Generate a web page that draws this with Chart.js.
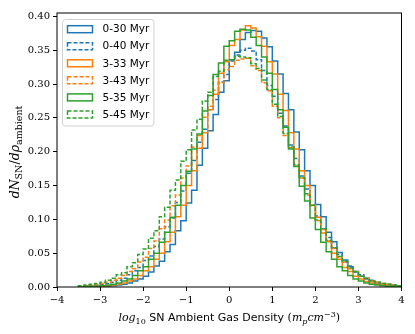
<!DOCTYPE html>
<html><head><meta charset="utf-8">
<script src="https://cdn.jsdelivr.net/npm/chart.js@4"></script>
<style>html,body{margin:0;padding:0;background:#fff}#wrap{width:415px;height:334px}</style>
</head><body><div id="wrap"><canvas id="c" width="415" height="334"></canvas></div>
<script>
// histogram bins: 60 bins of width 0.125 starting at -3.5
const binStart = -3.5;
const binWidth = 0.125;
const binCount = 60;

const seriesLabels = ['0-30 Myr','0-40 Myr','3-33 Myr','3-43 Myr','5-35 Myr','5-45 Myr'];

const dens_0_30 = [
 0.000,0.000,0.000,0.001,0.001,0.001,0.002,0.003,0.004,0.006,
 0.009,0.012,0.016,0.022,0.031,0.038,0.052,0.063,0.083,0.098,
 0.124,0.143,0.180,0.205,0.231,0.255,0.288,0.305,0.336,0.347,
 0.366,0.376,0.379,0.378,0.368,0.355,0.334,0.315,0.286,0.262,
 0.229,0.203,0.172,0.150,0.122,0.104,0.081,0.067,0.051,0.040,
 0.030,0.023,0.016,0.012,0.009,0.006,0.004,0.003,0.002,0.001];
const dens_0_40 = [
 0.001,0.001,0.002,0.003,0.004,0.005,0.007,0.010,0.013,0.018,
 0.024,0.029,0.039,0.046,0.060,0.071,0.089,0.102,0.125,0.142,
 0.168,0.187,0.214,0.233,0.262,0.277,0.303,0.314,0.334,0.343,
 0.350,0.353,0.349,0.336,0.320,0.298,0.282,0.257,0.238,0.210,
 0.190,0.164,0.145,0.121,0.105,0.086,0.073,0.058,0.048,0.037,
 0.031,0.022,0.018,0.013,0.010,0.007,0.005,0.004,0.003,0.002];
const dens_3_33 = [
 0.000,0.000,0.000,0.001,0.001,0.002,0.003,0.004,0.006,0.009,
 0.012,0.017,0.024,0.030,0.041,0.050,0.067,0.081,0.104,0.121,
 0.150,0.172,0.205,0.228,0.262,0.285,0.316,0.333,0.357,0.366,
 0.380,0.386,0.383,0.370,0.356,0.333,0.315,0.285,0.261,0.228,
 0.204,0.172,0.150,0.121,0.103,0.080,0.067,0.050,0.041,0.029,
 0.023,0.016,0.012,0.008,0.006,0.004,0.003,0.002,0.001,0.001];
const dens_3_43 = [
 0.001,0.002,0.003,0.004,0.005,0.007,0.010,0.013,0.017,0.023,
 0.027,0.037,0.044,0.057,0.068,0.086,0.099,0.120,0.136,0.161,
 0.179,0.207,0.224,0.251,0.267,0.291,0.302,0.321,0.326,0.335,
 0.337,0.338,0.327,0.320,0.302,0.290,0.267,0.250,0.224,0.206,
 0.179,0.161,0.136,0.120,0.098,0.085,0.068,0.057,0.044,0.037,
 0.027,0.023,0.016,0.013,0.009,0.007,0.005,0.004,0.003,0.002];
const dens_5_35 = [
 0.000,0.001,0.001,0.001,0.002,0.003,0.004,0.006,0.009,0.012,
 0.017,0.024,0.030,0.041,0.050,0.066,0.081,0.103,0.121,0.150,
 0.171,0.204,0.226,0.260,0.283,0.314,0.331,0.356,0.364,0.378,
 0.381,0.380,0.369,0.357,0.340,0.316,0.292,0.262,0.236,0.204,
 0.178,0.149,0.127,0.102,0.085,0.066,0.052,0.041,0.030,0.024,
 0.017,0.012,0.009,0.006,0.004,0.003,0.002,0.001,0.001,0.001];
const dens_5_45 = [
 0.002,0.003,0.004,0.005,0.007,0.010,0.013,0.018,0.021,0.030,
 0.036,0.048,0.056,0.072,0.083,0.104,0.118,0.143,0.158,0.186,
 0.203,0.232,0.248,0.275,0.288,0.311,0.319,0.335,0.336,0.341,
 0.340,0.339,0.330,0.323,0.306,0.292,0.270,0.252,0.227,0.207,
 0.181,0.162,0.138,0.121,0.099,0.086,0.069,0.058,0.045,0.038,
 0.028,0.023,0.016,0.013,0.009,0.007,0.005,0.004,0.003,0.002];

const xTicks = [-4,-3,-2,-1,0,1,2,3,4];
const yTicks = [0,0.05,0.10,0.15,0.20,0.25,0.30,0.35,0.40];

const seriesValues = [dens_0_30, dens_0_40, dens_3_33, dens_3_43, dens_5_35, dens_5_45];
const seriesColors = ['#1f77b4','#1f77b4','#ff7f0e','#ff7f0e','#2ca02c','#2ca02c'];
const seriesDashed = [false,true,false,true,false,true];

function stepPoints(vals){
  const pts = [{x: binStart, y: 0}];
  for (let i = 0; i < vals.length; i++) pts.push({x: binStart + i*binWidth, y: vals[i]});
  pts.push({x: binStart + vals.length*binWidth, y: 0});
  return pts;
}

const datasets = seriesValues.map((v,i)=>({
  label: seriesLabels[i],
  data: stepPoints(v),
  borderColor: seriesColors[i],
  backgroundColor: 'transparent',
  borderWidth: 1.5,
  borderDash: seriesDashed[i] ? [4,2] : [],
  stepped: 'before',
  pointRadius: 0,
  fill: false,
  order: 10 - i
}));

function drawRuns(ctx, runs, cx, cy){
  let total = 0;
  runs.forEach(r => { ctx.font = r.font; r.w = ctx.measureText(r.t).width; total += r.w; });
  let x = cx - total/2;
  ctx.textBaseline = 'alphabetic';
  ctx.textAlign = 'left';
  runs.forEach(r => { ctx.font = r.font; ctx.fillText(r.t, x, cy + (r.dy||0)); x += r.w; });
}

const framePlugin = {
  id: 'frame',
  afterDatasetsDraw(chart){
    const {ctx, chartArea: a} = chart;
    ctx.save();
    // legend
    const lx = a.left + 5.5, ly = a.top + 6.5, lw = 91.5, lh = 106.5;
    ctx.beginPath();
    ctx.roundRect(lx, ly, lw, lh, 3);
    ctx.fillStyle = 'rgba(255,255,255,0.8)';
    ctx.fill();
    ctx.strokeStyle = '#d0d0d0';
    ctx.lineWidth = 1;
    ctx.stroke();
    for (let i = 0; i < seriesLabels.length; i++){
      const cy = ly + 9.7 + i*17.05;
      ctx.strokeStyle = seriesColors[i];
      ctx.lineWidth = 1.5;
      ctx.setLineDash(seriesDashed[i] ? [4,2] : []);
      ctx.strokeRect(lx + 5, cy - 3.5, 25, 7);
      ctx.setLineDash([]);
      ctx.fillStyle = '#000';
      ctx.font = '10.5px "DejaVu Sans"';
      ctx.textBaseline = 'middle';
      ctx.textAlign = 'left';
      ctx.fillText(seriesLabels[i], lx + 40, cy + 0.5);
    }
    // spines
    ctx.strokeStyle = '#000';
    ctx.lineWidth = 1;
    ctx.strokeRect(a.left, a.top, a.right - a.left, a.bottom - a.top);
    // axis labels
    ctx.fillStyle = '#000';
    const s = 11, ss = 8;
    drawRuns(ctx, [
      {t:'log', font:`italic ${s}px "DejaVu Serif"`},
      {t:'10', font:`${ss}px "DejaVu Serif"`, dy:2.5},
      {t:' SN Ambient Gas Density ', font:`${s}px "DejaVu Sans"`},
      {t:'(', font:`${s}px "DejaVu Serif"`},
      {t:'m', font:`italic ${s}px "DejaVu Serif"`},
      {t:'p', font:`italic ${ss}px "DejaVu Serif"`, dy:2.5},
      {t:'cm', font:`italic ${s}px "DejaVu Serif"`},
      {t:'−3', font:`${ss}px "DejaVu Serif"`, dy:-4.5},
      {t:')', font:`${s}px "DejaVu Serif"`}
    ], (a.left + a.right)/2, 321);
    ctx.save();
    ctx.translate(19, (a.top + a.bottom)/2 + 2);
    ctx.rotate(-Math.PI/2);
    const ys = 12.5, yss = 9.5;
    drawRuns(ctx, [
      {t:'dN', font:`italic ${ys}px "DejaVu Serif"`},
      {t:'SN', font:`${yss}px "DejaVu Serif"`, dy:3},
      {t:'/', font:`${ys}px "DejaVu Serif"`},
      {t:'dρ', font:`italic ${ys}px "DejaVu Serif"`},
      {t:'ambient', font:`${yss}px "DejaVu Serif"`, dy:3}
    ], 0, 0);
    ctx.restore();
    ctx.restore();
  }
};

new Chart(document.getElementById('c'), {
  type: 'line',
  data: { datasets },
  options: {
    responsive: false,
    devicePixelRatio: 1,
    animation: false,
    layout: { padding: { top: 13, right: 13.5, left: 0, bottom: 0 } },
    plugins: { legend: { display: false }, tooltip: { enabled: false } },
    scales: {
      x: {
        type: 'linear', min: -4, max: 4,
        afterFit(s){ s.height = 47; },
        afterBuildTicks(s){ s.ticks = xTicks.map(v=>({value:v})); },
        ticks: { font: { family: '"DejaVu Serif"', size: 10 }, color: '#000', padding: 3,
          maxRotation: 0, callback: v => (v < 0 ? '−' + Math.abs(v) : String(v)) },
        grid: { drawOnChartArea: false, drawTicks: true, tickLength: 4, color: '#000' },
        border: { display: false }
      },
      y: {
        min: 0, max: 0.405,
        afterFit(s){ s.width = 57; },
        afterBuildTicks(s){ s.ticks = yTicks.map(v=>({value:v})); },
        ticks: { font: { family: '"DejaVu Serif"', size: 10 }, color: '#000', padding: 3,
          callback: v => Number(v).toFixed(2) },
        grid: { drawOnChartArea: false, drawTicks: true, tickLength: 4, color: '#000' },
        border: { display: false }
      }
    }
  },
  plugins: [framePlugin]
});
</script></body></html>
